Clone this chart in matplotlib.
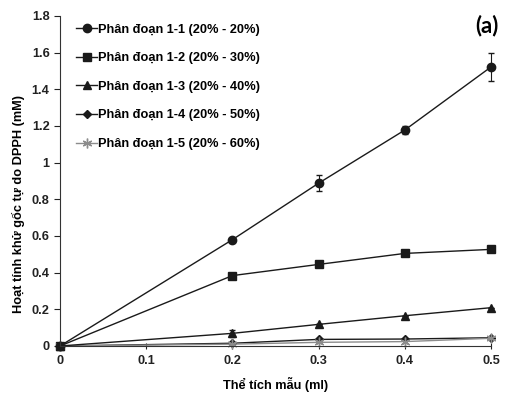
import matplotlib
matplotlib.use("Agg")
import matplotlib.pyplot as plt

# Données
the_tich = [0, 0.2, 0.3, 0.4, 0.5]
pd11 = [0, 0.58, 0.888, 1.178, 1.522]
pd11_err = [0, 0.0, 0.044, 0.02, 0.075]
pd12 = [0, 0.384, 0.445, 0.505, 0.527]
pd13 = [0, 0.069, 0.118, 0.165, 0.209]
pd13_err = [0, 0.02, 0.0, 0.0, 0.0]
pd14 = [0, 0.015, 0.036, 0.038, 0.045]
pd15 = [0, 0.01, 0.02, 0.024, 0.042]

labels = [
    "Phân đoạn 1-1 (20% - 20%)",
    "Phân đoạn 1-2 (20% - 30%)",
    "Phân đoạn 1-3 (20% - 40%)",
    "Phân đoạn 1-4 (20% - 50%)",
    "Phân đoạn 1-5 (20% - 60%)",
]
x_ticks = [0, 0.1, 0.2, 0.3, 0.4, 0.5]
y_ticks = [0, 0.2, 0.4, 0.6, 0.8, 1, 1.2, 1.4, 1.6, 1.8]

plt.rcParams["font.family"] = ["Liberation Sans", "DejaVu Sans"]
plt.rcParams["font.weight"] = "bold"
FS = 9.2

fig = plt.figure(figsize=(5.06, 3.96), dpi=100)
ax = fig.add_axes([60 / 506, 1 - 346 / 396, 431 / 506, 330 / 396])

lw = 1.0
c = "#1a1a1a"
h1 = ax.errorbar(the_tich, pd11, yerr=pd11_err, color=c, marker="o", ms=6,
                 lw=lw, elinewidth=0.8, capsize=2.5, clip_on=False)
h2, = ax.plot(the_tich, pd12, color=c, marker="s", ms=6, lw=lw, clip_on=False)
h3 = ax.errorbar(the_tich, pd13, yerr=pd13_err, color=c, marker="^", ms=6,
                 lw=lw, elinewidth=0.8, capsize=2.5, clip_on=False)
h4, = ax.plot(the_tich, pd14, color=c, marker="D", ms=4.5, lw=lw, clip_on=False)
h5, = ax.plot(the_tich, pd15, color="#8c8c8c", marker=(6, 2, 0), ms=7, lw=lw,
              mew=1.0, clip_on=False)

ax.set_xlim(0, 0.5)
ax.set_ylim(0, 1.8)
ax.set_xticks(x_ticks)
ax.set_xticklabels(["0", "0.1", "0.2", "0.3", "0.4", "0.5"])
ax.set_yticks(y_ticks)
ax.set_yticklabels(["0", "0.2", "0.4", "0.6", "0.8", "1", "1.2", "1.4", "1.6", "1.8"])
ax.tick_params(axis="both", labelsize=FS, width=0.8, colors="#222222")
ax.tick_params(axis="y", length=4)
ax.tick_params(axis="x", direction="inout", length=5, pad=4)
for s in ("top", "right"):
    ax.spines[s].set_visible(False)
for s in ("left", "bottom"):
    ax.spines[s].set_linewidth(0.8)
    ax.spines[s].set_color("#333333")

ax.set_xlabel("Thể tích mẫu (ml)", fontsize=FS, fontweight="bold", va="center")
ax.xaxis.set_label_coords(0.5, -0.118)
ax.set_ylabel("Hoạt tính khử gốc tự do DPPH (mM)", fontsize=FS, fontweight="bold")
ax.yaxis.set_label_coords(-0.081, 0.43)

leg = ax.legend([h1[0], h2, h3[0], h4, h5], labels, loc="upper left",
                bbox_to_anchor=(0.02, 1.0), frameon=False, fontsize=FS,
                handlelength=1.6, handletextpad=0.1, labelspacing=1.3,
                borderaxespad=0.2)
for t in leg.get_texts():
    t.set_fontweight("bold")

fig.text(0.985, 0.935, "(a)", ha="right", va="center", fontsize=16,
         fontweight="bold", family=["Lato", "DejaVu Sans"])

fig.savefig("out.png", dpi=100)
